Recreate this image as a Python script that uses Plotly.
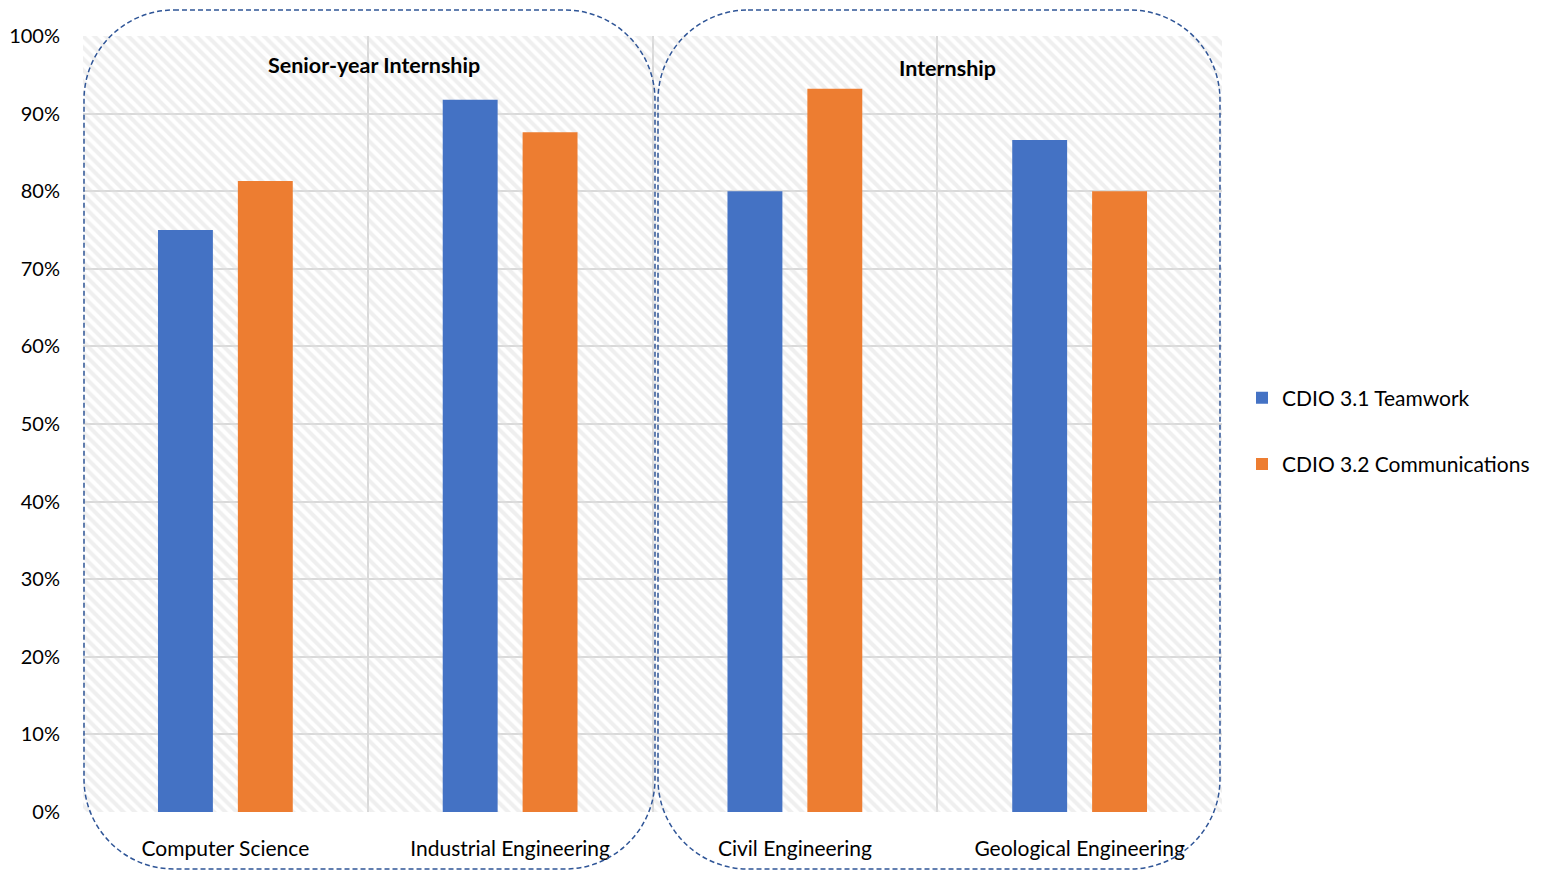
import plotly.graph_objects as go

# ---------------- data ----------------
categories = ["Computer Science", "Industrial Engineering", "Civil Engineering", "Geological Engineering"]
series_names = ["CDIO 3.1 Teamwork", "CDIO 3.2 Communications"]
teamwork = [0.75, 0.918, 0.80, 0.866]
communications = [0.813, 0.876, 0.932, 0.80]
group_labels = ["Senior-year Internship", "Internship"]

# ---------------- styling ----------------
OFF = 8  # default body margin of the html page
W, H = 1542 - 2 * OFF, 879 - 2 * OFF
L, T = 83 - OFF, 36 - OFF
PW, PH = 1139, 776
R, B = W - L - PW, H - T - PH
FONT = "Lato"
BLUE, ORANGE = "#4472C4", "#ED7D31"
GRID = "#d9d9d9"
BOXCOL = "#2F5597"


def px2paper(x, y):
    # x, y in screen pixels of the reference picture
    return (x - OFF - L) / PW, (T + PH - (y - OFF)) / PH


def rounded_rect(x0, y0, x1, y1, r):
    k = 0.5523 * r

    def P(x, y):
        px, py = px2paper(x, y)
        return f"{px:.5f},{py:.5f}"
    d = f"M {P(x0 + r, y0)} L {P(x1 - r, y0)} "
    d += f"C {P(x1 - r + k, y0)} {P(x1, y0 + r - k)} {P(x1, y0 + r)} "
    d += f"L {P(x1, y1 - r)} "
    d += f"C {P(x1, y1 - r + k)} {P(x1 - r + k, y1)} {P(x1 - r, y1)} "
    d += f"L {P(x0 + r, y1)} "
    d += f"C {P(x0 + r - k, y1)} {P(x0, y1 - r + k)} {P(x0, y1 - r)} "
    d += f"L {P(x0, y0 + r)} "
    d += f"C {P(x0, y0 + r - k)} {P(x0 + r - k, y0)} {P(x0 + r, y0)} Z"
    return d


fig = go.Figure()

# hatched plot-area background (decoration on hidden base axes)
fig.add_trace(go.Bar(
    x=[0.5], y=[1], width=[1], xaxis="x", yaxis="y",
    marker=dict(color="rgba(0,0,0,0)", line=dict(width=0),
                pattern=dict(shape="\\", fgcolor="#e0e0e0", bgcolor="rgba(0,0,0,0)",
                             size=8, solidity=0.5)),
    showlegend=False, hoverinfo="skip"))

fig.add_trace(go.Bar(x=categories, y=teamwork, name=series_names[0], xaxis="x2", yaxis="y2",
                     marker=dict(color=BLUE, line=dict(width=0)), legendgroup="a"))
fig.add_trace(go.Bar(x=categories, y=communications, name=series_names[1], xaxis="x2", yaxis="y2",
                     marker=dict(color=ORANGE, line=dict(width=0)), legendgroup="b"))

boxes = [(84, 10, 655, 869), (658, 10, 1220, 869)]
shapes = [dict(type="path", xref="paper", yref="paper", path=rounded_rect(*b, 90),
               line=dict(color=BOXCOL, width=1.5, dash="5px,3px"), layer="above")
          for b in boxes]

ann_pos = [(374, 65), (947, 68)]
annotations = []
for lab, (ax, ay) in zip(group_labels, ann_pos):
    px, py = px2paper(ax, ay)
    annotations.append(dict(text=f"<b>{lab}</b>", x=px, y=py, xref="paper", yref="paper",
                            showarrow=False, xanchor="center", yanchor="middle",
                            font=dict(family=FONT, size=21.5, color="#000000")))

lx, ly = px2paper(1242, 431)

fig.update_layout(
    width=W, height=H,
    margin=dict(l=L, r=R, t=T, b=B, autoexpand=False),
    paper_bgcolor="white", plot_bgcolor="white",
    barmode="group", bargap=0.439, bargroupgap=0.3125,
    font=dict(family=FONT, size=20, color="#000000"),
    xaxis=dict(range=[0, 1], visible=False, fixedrange=True),
    yaxis=dict(range=[0, 1], visible=False, fixedrange=True),
    xaxis2=dict(overlaying="x", anchor="y2", type="category", range=[-0.5, 3.5],
                tickson="boundaries", showgrid=True, gridcolor=GRID, gridwidth=2,
                ticks="", showline=False, zeroline=False, ticklabelstandoff=22,
                tickfont=dict(family=FONT, size=21, color="#000000")),
    yaxis2=dict(overlaying="y", anchor="x2", side="left", range=[0, 1], tickformat=".0%",
                dtick=0.1, tick0=0, showgrid=True, gridcolor=GRID, gridwidth=2,
                ticks="", showline=False, zeroline=False, ticklabelstandoff=22,
                tickfont=dict(family=FONT, size=20, color="#000000")),
    legend=dict(x=lx, y=ly, xanchor="left", yanchor="middle", traceorder="grouped",
                tracegroupgap=36, font=dict(family=FONT, size=21, color="#000000"),
                bgcolor="rgba(0,0,0,0)"),
    shapes=shapes, annotations=annotations,
)

fig.write_html("out.html")
